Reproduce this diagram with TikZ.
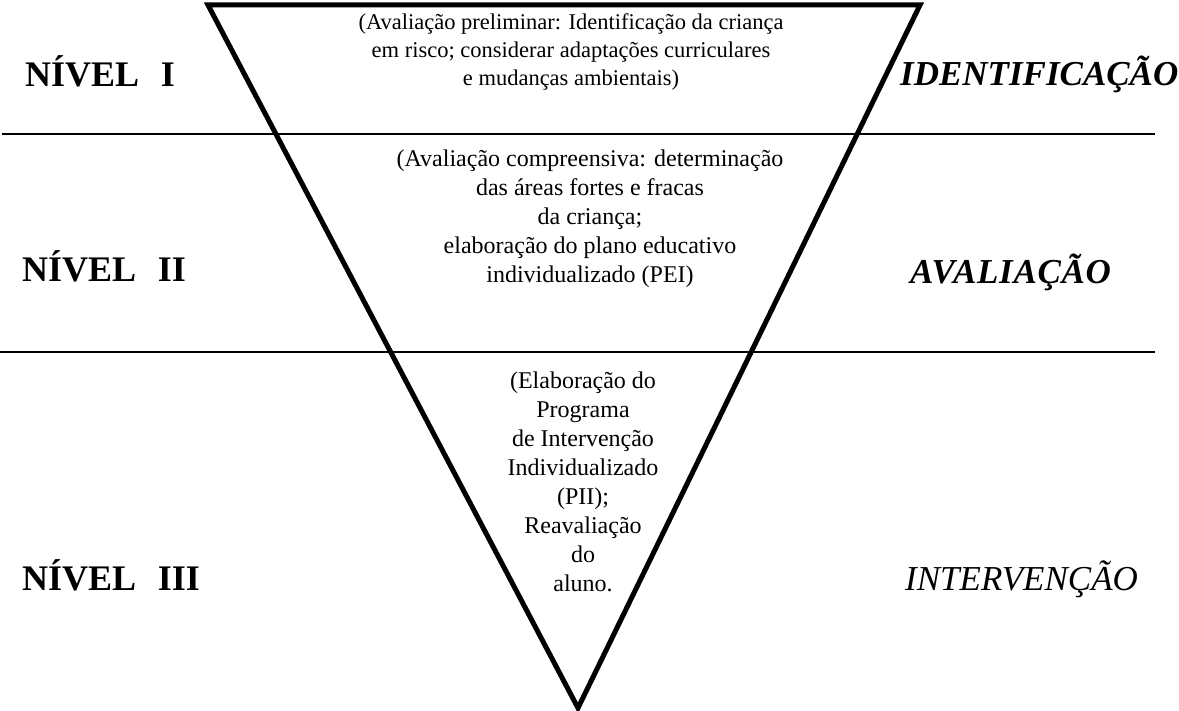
\documentclass[tikz,border=0pt]{standalone}
\usepackage{fontspec}
\setmainfont{Liberation Serif}
\begin{document}
\begin{tikzpicture}[x=1pt,y=-1pt,
  tri/.style={line width=5pt, line join=miter, draw=black},
  hline/.style={line width=2.2pt, draw=black},
  body/.style={align=center, inner sep=0pt, font=\fontsize{24}{29}\selectfont},
  bodyA/.style={align=center, inner sep=0pt, font=\fontsize{22.5}{28}\selectfont},
  level/.style={anchor=base west, inner sep=0pt, font=\fontsize{36}{40}\selectfont\bfseries},
  phase/.style={anchor=base west, inner sep=0pt, font=\fontsize{35}{40}\selectfont\itshape}]
\useasboundingbox (0,0) rectangle (1179,711);
\coordinate (TL) at (208,5);
\coordinate (TR) at (920,5);
\coordinate (B) at (578,708);
\coordinate (h1a) at (2,134);
\coordinate (h1b) at (1155,134);
\coordinate (h2a) at (0,352);
\coordinate (h2b) at (1155,352);
\draw[hline] (h1a) -- (h1b);
\draw[hline] (h2a) -- (h2b);
\draw[tri] (TL) -- (TR) -- (B) -- cycle;
\node[bodyA] (t1) at (571,52) {(Avaliação preliminar: Identificação da criança\\em risco; considerar adaptações curriculares\\e mudanças ambientais)};
\node[body] (t2) at (590,219) {(Avaliação compreensiva: determinação\\das áreas fortes e fracas\\da criança;\\elaboração do plano educativo\\individualizado (PEI)};
\node[body] (t3) at (583,482) {(Elaboração do\\Programa\\de Intervenção\\Individualizado\\(PII);\\Reavaliação\\do\\aluno.};
\node[level] (n1) at (25,87) {NÍVEL\hspace{0.6em}I};
\node[level] (n2) at (22,282) {NÍVEL\hspace{0.6em}II};
\node[level] (n3) at (22,590) {NÍVEL\hspace{0.6em}III};
\node[phase, font=\fontsize{35}{40}\selectfont\bfseries\itshape] (p1) at (900,86) {IDENTIFICAÇÃO};
\node[phase, font=\fontsize{35}{40}\selectfont\bfseries\itshape\addfontfeatures{LetterSpace=2}] (p2) at (910,284) {AVALIAÇÃO};
\node[phase] (p3) at (905,590) {INTERVENÇÃO};
\end{tikzpicture}
\end{document}
